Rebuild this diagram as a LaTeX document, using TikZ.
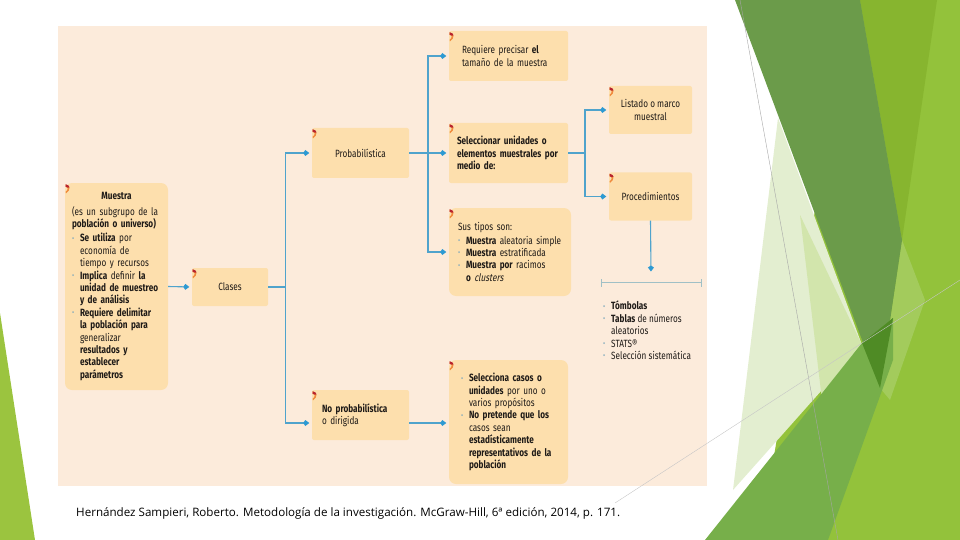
\documentclass[tikz,border=0pt]{standalone}
\usepackage{fontspec}
\usetikzlibrary{arrows.meta}
\newfontfamily\cond[FakeStretch=0.78]{Fira Sans}
\newfontfamily\condit[FakeStretch=0.78,FakeSlant=0.2]{Fira Sans}
\newfontfamily\citefont{Open Sans}
\definecolor{panel}{HTML}{FCEBDB}
\definecolor{boxc}{HTML}{FDDFAD}
\definecolor{txt}{HTML}{1E1A17}
\definecolor{lnc}{HTML}{4FA3CC}
\definecolor{tipc}{HTML}{2D9AD3}
\definecolor{bul}{HTML}{7FA9BC}
\definecolor{mkred}{HTML}{B8232E}
\definecolor{mkor}{HTML}{F08A3C}
\definecolor{brk}{HTML}{A0C0C6}
\definecolor{gBright}{HTML}{93C23B}
\definecolor{gTop}{HTML}{87B52F}
\definecolor{gDark}{HTML}{6B9B4A}
\definecolor{gPale}{HTML}{E3EED0}
\definecolor{gPale2}{HTML}{D2E5AC}
\definecolor{gMid}{HTML}{77AF4A}
\definecolor{gDeep}{HTML}{4F8B25}
\definecolor{gStrip}{HTML}{A3CB5C}
\definecolor{gLeft}{HTML}{9BC43F}
\newcommand\dfont{\cond\fontsize{10.5}{12.4}\selectfont}
\newcommand\mybul{\makebox[8pt][l]{\textcolor{bul}{\raisebox{0.6pt}{\scalebox{0.8}{•}}}}}
\newcommand\myind{\hspace*{8pt}}
\tikzset{
  bx/.style={fill=boxc, rounded corners=2pt, inner sep=0pt, text=txt, font=\dfont},
  bigbx/.style={bx, rounded corners=7pt},
  conn/.style={draw=lnc, line width=1.1pt},
  arr/.style={conn, -{Kite[length=6pt,width=6pt,inset=2pt,color=tipc]}, shorten >=2.5pt},
  cmark/.pic={
    \fill[mkor] (0.8,1.5) .. controls (5.5,2.5) and (6.2,7.5) .. (1.2,10.5)
       -- (0.8,9) .. controls (3.5,7) and (3.5,4.5) .. (0.8,4) -- cycle;
    \fill[mkred] (0.8,1.5) .. controls (3.2,1.8) and (4.4,3) .. (4.8,4.6)
       -- (3,4.8) .. controls (2.6,4.2) and (1.8,4) .. (0.8,4) -- cycle;
  }
}
\begin{document}
\begin{tikzpicture}[x=1pt,y=-1pt]
\useasboundingbox (0,0) rectangle (960,540);
% decoration right
\fill[gBright] (850,0) -- (960,0) -- (960,540) -- (760,540) -- cycle;
\fill[gTop] (860,0) -- (937,0) -- (902,240) -- cycle;
\fill[gStrip] (902,240) -- (925,300) -- (890,400) -- (880,388) -- cycle;
\fill[gPale] (778,118) -- (862,345) -- (733,490) -- cycle;
\fill[gPale2] (800,215) -- (862,345) -- (822,400) -- cycle;
\fill[gDark] (735,0) -- (860,0) -- (902,240) -- (880,388) -- cycle;
\fill[gMid] (705,540) -- (862,343) -- (893,318) -- (893,360) -- (828,540) -- cycle;
\fill[gDeep] (862,343) -- (893,318) -- (880,388) -- cycle;
\fill[gLeft] (0,313) -- (35,540) -- (0,540) -- cycle;
% panel
\fill[panel] (58,26) rectangle (707,486);
% thin lines
\draw[gray!70, line width=0.4pt] (740,0) -- (838,540);
\draw[gray!45, line width=0.4pt] (615,503) -- (862,343) -- (960,280);
% boxes
\node[bx, bigbx, minimum height=207pt, text width=89pt, inner xsep=7pt, align=left] (mu) at (116.5,286.5) {%
\makebox[89pt][c]{\bfseries Muestra}\\[3pt]
(es un subgrupo de la\\
\textbf{población o universo)}\\[2pt]
\mybul\textbf{Se utiliza} por\\
\myind economía de\\
\myind tiempo y recursos\\
\mybul\textbf{Implica} definir \textbf{la}\\
\myind\textbf{unidad de muestreo}\\
\myind\textbf{y de análisis}\\
\mybul\textbf{Requiere delimitar}\\
\myind\textbf{la población para}\\
\myind generalizar\\
\myind\textbf{resultados y}\\
\myind\textbf{establecer}\\
\myind\textbf{parámetros}};
\node[bx, minimum width=76pt, minimum height=38pt, align=center] (cl) at (230,287) {Clases};
\node[bx, minimum width=97pt, minimum height=50pt, align=center] (pb) at (360.5,153) {Probabilística};
\node[bx, text width=77pt, inner xsep=10pt, minimum height=50pt, align=left] (np) at (360.5,415) {\textbf{No probabilística}\\o dirigida};
\node[bx, text width=93pt, inner xsep=13pt, minimum height=50pt, align=left] (rq) at (508.5,56) {Requiere precisar \textbf{el}\\tamaño de la muestra};
\node[bx, text width=103pt, inner xsep=8pt, minimum height=60pt, align=left] (se) at (508.5,153) {\textbf{Seleccionar unidades o}\\\textbf{elementos muestrales por}\\\textbf{medio de:}};
\node[bx, bigbx, text width=104pt, inner xsep=9pt, minimum height=88pt, align=left] (st) at (510,252) {%
Sus tipos son:\\[1pt]
\mybul\textbf{Muestra} aleatoria simple\\
\mybul\textbf{Muestra} estratificada\\
\mybul\textbf{Muestra por} racimos\\
\myind\textbf{o} {\condit clusters}};
\node[bx, bigbx, text width=95pt, inner xsep=12pt, minimum height=124pt, align=left] (sc) at (508.5,422) {%
\mybul\textbf{Selecciona casos o}\\
\myind\textbf{unidades} por uno o\\
\myind varios propósitos\\
\mybul\textbf{No pretende que los}\\
\myind casos sean\\
\myind\textbf{estadísticamente}\\
\myind\textbf{representativos de la}\\
\myind\textbf{población}};
\node[bx, minimum width=83pt, minimum height=48pt, align=center] (ls) at (650.5,110) {Listado o marco\\muestral};
\node[bx, minimum width=83pt, minimum height=48pt, align=center] (pr) at (650.5,196.5) {Procedimientos};
\node[anchor=north west, inner sep=0pt, text=txt, font=\dfont, align=left] (lst) at (603,301) {%
\mybul\textbf{Tómbolas}\\
\mybul\textbf{Tablas} de números\\
\myind aleatorios\\
\mybul STATS®\\
\mybul Selección sistemática};
% corner marks
\foreach \n in {mu,cl,pb,np,rq,se,st,sc,ls,pr} {\pic at (\n.north west) {cmark};}
% connectors
\draw[arr] (mu.east) -- (cl.west);
\draw[conn] (cl.east) -- ++(17,0) coordinate (j1);
\draw[arr] (j1) |- (pb.west);
\draw[arr] (j1) |- ([yshift=-8pt]np.west);
\draw[arr] (pb.east) -- (se.west);
\coordinate (j2) at (428,153);
\draw[arr] (j2) |- (rq.west);
\draw[arr] (j2) |- (st.west);
\draw[conn] (se.east) -- (585,153) coordinate (j3);
\draw[arr] (j3) |- (ls.west);
\draw[arr] (j3) |- (pr.west);
\draw[arr] ([yshift=-8pt]np.east) -- ([yshift=-8pt]np.east -| sc.west);
\coordinate (bk) at (651,274);
\draw[arr] (pr.south) -- (bk);
\draw[draw=brk, line width=0.9pt] (601,279) -- (601,287) (601,282) -- (701,282) (701,279) -- (701,287);
% citation
\node[anchor=west, inner sep=0pt, font=\citefont\fontsize{11.6}{13}\selectfont, text=black] (cit) at (76,513)
  {Hernández Sampieri, Roberto. Metodología de la investigación. McGraw-Hill, 6ª edición, 2014, p. 171.};
\end{tikzpicture}
\end{document}
